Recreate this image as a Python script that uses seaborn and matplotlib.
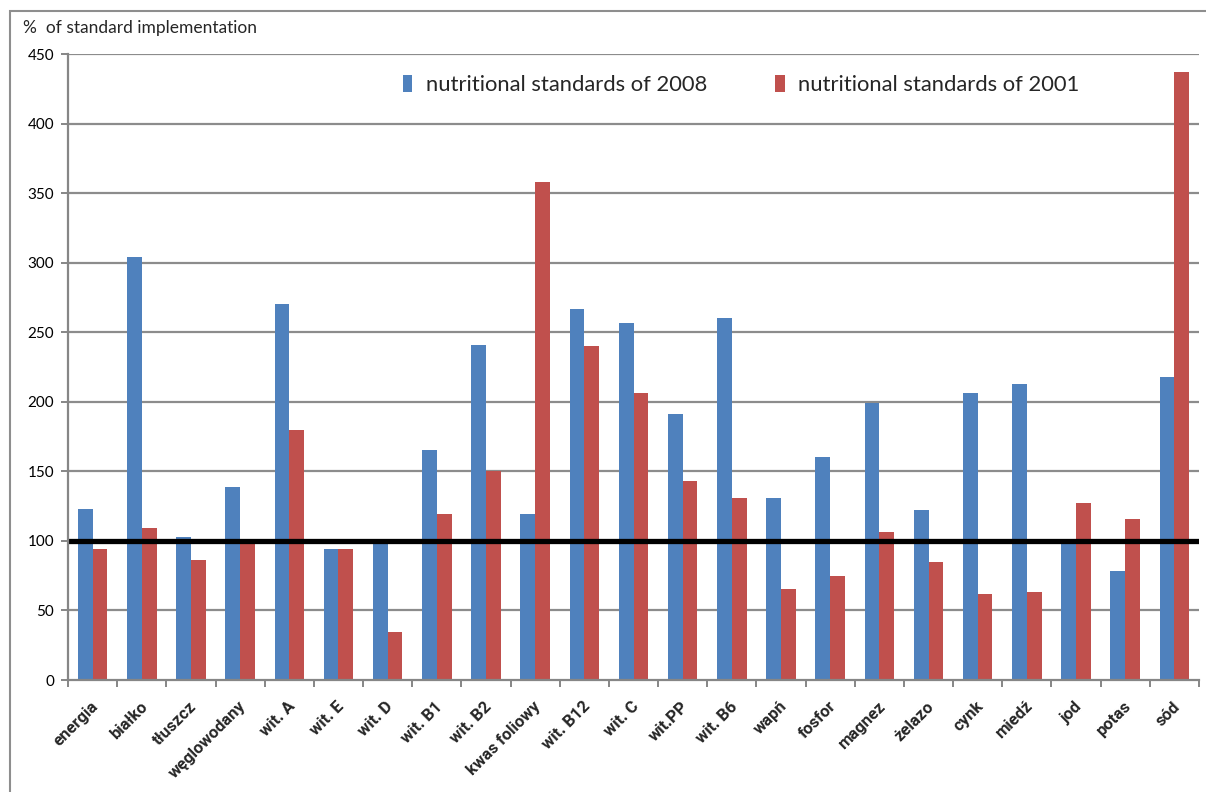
import matplotlib
matplotlib.use("Agg")
import matplotlib.pyplot as plt
from matplotlib.patches import Rectangle, Patch
from matplotlib.transforms import ScaledTranslation
import numpy as np
import pandas as pd
import seaborn as sns

# Nutrients and percentage of standard implementation
nutrients = ["energia", "białko", "tłuszcz", "węglowodany", "wit. A", "wit. E",
             "wit. D", "wit. B1", "wit. B2", "kwas foliowy", "wit. B12", "wit. C",
             "wit.PP", "wit. B6", "wapń", "fosfor", "magnez", "żelazo", "cynk",
             "miedź", "jod", "potas", "sód"]
standards_2008 = [123, 304, 103, 139, 270, 94.5, 99, 165.5, 241, 119.5, 267, 256.5,
                  191, 260, 130.5, 160, 199, 122, 206, 213, 99, 78.5, 218]
standards_2001 = [94, 109, 86.5, 99, 180, 94.5, 34.5, 119, 150.5, 358, 240, 206,
                  143, 130.5, 65.5, 74.5, 106.5, 85, 62, 63.5, 127.5, 115.5, 437]
series_names = ["nutritional standards of 2008", "nutritional standards of 2001"]
y_ticks = [0, 50, 100, 150, 200, 250, 300, 350, 400, 450]

BLUE = "#4F81BD"
RED = "#C0504D"
GRID = "#8C8C8C"
AXIS = "#868686"

df = pd.DataFrame({
    "nutrient": nutrients * 2,
    "value": standards_2008 + standards_2001,
    "standard": [series_names[0]] * len(nutrients) + [series_names[1]] * len(nutrients),
})

sns.set_theme(style="white")
plt.rcParams["font.family"] = ["Lato", "DejaVu Sans"]

W, H = 1206, 792
fig = plt.figure(figsize=(W / 100, H / 100), dpi=100)
ax = fig.add_axes([68 / W, 1 - 680 / H, (1199 - 68) / W, (680 - 54) / H])

sns.barplot(data=df, x="nutrient", y="value", hue="standard", order=nutrients,
            hue_order=series_names, palette=[BLUE, RED], width=0.6,
            saturation=1, ax=ax, legend=False, zorder=2,
            linewidth=0, edgecolor="none")

ax.set_xlim(-0.5, len(nutrients) - 0.5)
ax.set_ylim(0, 450)
ax.set_yticks(y_ticks)
ax.set_xlabel("")
ax.set_ylabel("")

# horizontal gridlines
for v in y_ticks[1:]:
    ax.axhline(v, color=GRID, lw=1.6, zorder=1)
# 100% reference line
ax.axhline(100, color="black", lw=3.8, zorder=4)

for s in ["top", "right"]:
    ax.spines[s].set_visible(False)
for s in ["left", "bottom"]:
    ax.spines[s].set_color(AXIS)
    ax.spines[s].set_linewidth(1.6)
    ax.spines[s].set_zorder(5)

ax.tick_params(axis="y", which="major", length=5, width=1.4, color=AXIS,
               labelsize=11, pad=5, left=True, labelcolor="black")
ax.set_xticks(np.arange(-0.5, len(nutrients)), minor=True)
ax.tick_params(axis="x", which="minor", length=5, width=1.4, color=AXIS, bottom=True)
ax.tick_params(axis="x", which="major", length=0, pad=2)
ax.set_xticks(range(len(nutrients)))
ax.set_xticklabels(nutrients, fontsize=12, fontweight="bold",
                   family=["Roboto", "DejaVu Sans"])
plt.setp(ax.get_xticklabels(), rotation=45, ha="right", va="top",
         rotation_mode="anchor")
shift = ScaledTranslation(-2 / 100, -16 / 100, fig.dpi_scale_trans)
for lbl in ax.get_xticklabels():
    lbl.set_transform(lbl.get_transform() + shift)

# legend
handles = [Patch(facecolor=BLUE, edgecolor="none"), Patch(facecolor=RED, edgecolor="none")]
fig.legend(handles, series_names, ncol=2, loc="center",
           bbox_to_anchor=(741 / W, 1 - 85 / H), frameon=False, fontsize=15.8,
           handlelength=0.45, handleheight=0.8, handletextpad=0.6,
           columnspacing=3.1, borderpad=0)

# axis title
fig.text(23 / W, 1 - 28 / H, "%  of standard implementation", fontsize=12.5,
         ha="left", va="center")

# outer chart frame
fig.add_artist(Rectangle((10 / W, -0.05), 1.1, 1.05 - 11 / H, transform=fig.transFigure,
                         fill=False, edgecolor="#8E8E8E", lw=1.5))

fig.savefig("out.png", dpi=100)
